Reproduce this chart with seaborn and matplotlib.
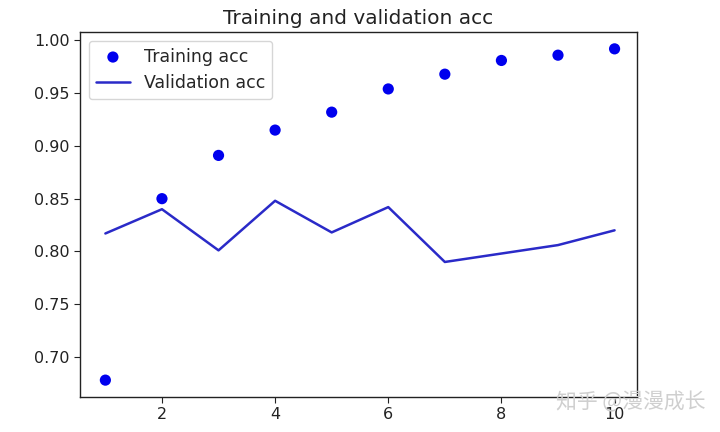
import matplotlib
matplotlib.use("Agg")
import matplotlib.pyplot as plt
import seaborn as sns
import pandas as pd

epochs = [1, 2, 3, 4, 5, 6, 7, 8, 9, 10]
train_acc = [0.678, 0.850, 0.891, 0.915, 0.932, 0.954, 0.968, 0.981, 0.986, 0.992]
val_acc = [0.817, 0.840, 0.801, 0.848, 0.818, 0.842, 0.790, 0.798, 0.806, 0.820]

sns.set_style("ticks")
plt.rcParams['font.family'] = ['DejaVu Sans', 'Noto Sans CJK SC']

df = pd.DataFrame({"epoch": epochs, "train": train_acc, "val": val_acc})

fig = plt.figure(figsize=(7.2, 4.32), dpi=100)
ax = fig.add_axes([0.111, 0.081, 0.774, 0.845])

sns.scatterplot(data=df, x="epoch", y="train", ax=ax, color="#0000ee",
                s=65, edgecolor="none", label="Training acc")
sns.lineplot(data=df, x="epoch", y="val", ax=ax, color="#2a2ac8",
             linewidth=1.8, label="Validation acc")

ax.set_xlim(0.55, 10.4)
ax.set_ylim(0.662, 1.008)
ax.set_xticks([2, 4, 6, 8, 10])
ax.set_yticks([0.70, 0.75, 0.80, 0.85, 0.90, 0.95, 1.00])
ax.set_yticklabels([f"{v:.2f}" for v in [0.70, 0.75, 0.80, 0.85, 0.90, 0.95, 1.00]])
ax.set_xlabel("")
ax.set_ylabel("")
ax.tick_params(labelsize=11.5, colors="#222222", length=4)
for sp in ax.spines.values():
    sp.set_color("#222222")
    sp.set_linewidth(1.0)
ax.set_title("Training and validation acc", fontsize=14.5, color="#222222")
leg = ax.legend(loc="upper left", fontsize=12.5, frameon=True)
leg.get_frame().set_edgecolor("#cccccc")

fig.text(0.98, 0.068, "知乎 @漫漫成长", ha="right", va="center", fontsize=15,
         color="#cfcfcf", family=["Noto Sans CJK SC", "DejaVu Sans"])

fig.savefig("out.png", dpi=100)
